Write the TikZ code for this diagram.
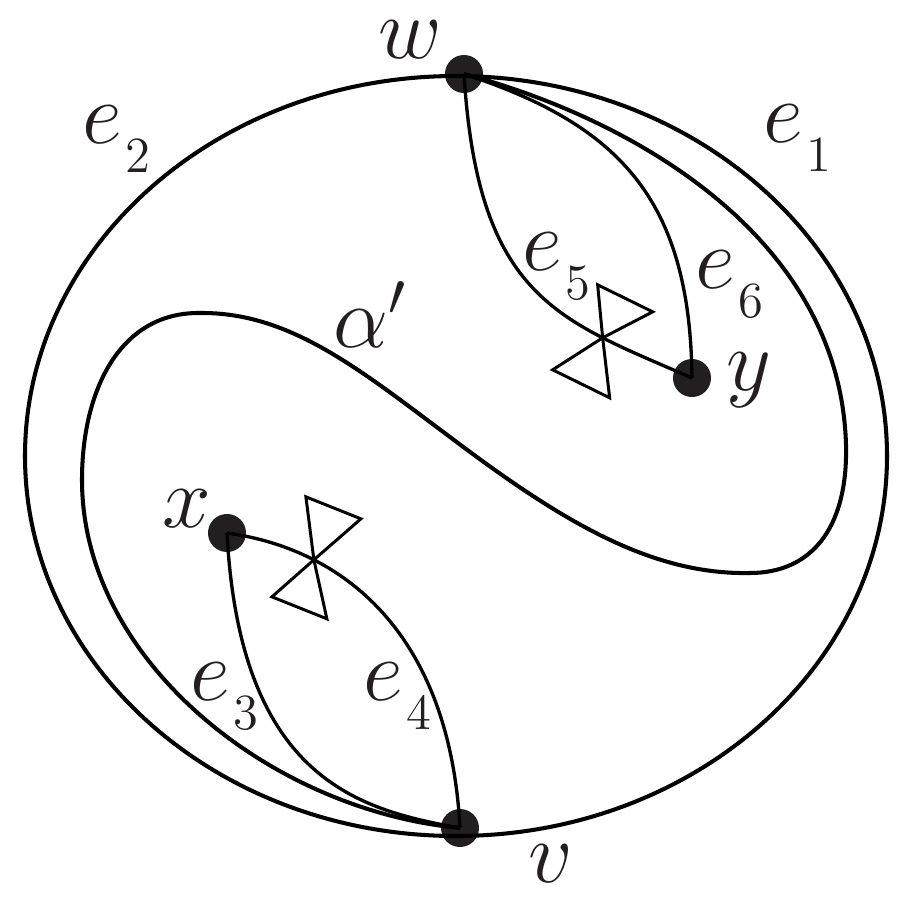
\documentclass[tikz,border=0pt]{standalone}
\definecolor{ink}{RGB}{35,31,32}
\newcommand{\elab}[1]{$e$\kern1pt\raisebox{-8.3pt}{\fontsize{15}{15}\selectfont$#1$}}
\tikzset{
 vtx/.style={circle, fill=ink, inner sep=0pt, minimum size=0.38cm},
 lab/.style={font=\fontsize{24}{24}\selectfont, text=ink, inner sep=0pt, anchor=base west},
 rim/.style={line width=1.15pt},
 wire/.style={line width=0.95pt},
 tie/.style={line width=0.85pt, line join=miter},
}

\begin{document}
\begin{tikzpicture}[x=0.01cm, y=-0.01cm]
\useasboundingbox (0,0) rectangle (900,900);
% vertices
\node[vtx] (w) at (464,74) {};
\node[vtx] (v) at (460,828) {};
\node[vtx] (x) at (227,533) {};
\node[vtx] (y) at (692,378) {};
% e1, e2
\draw[rim] (456,456) ellipse [x radius=431, y radius=380];
% alpha'
\draw[rim] (w.center) .. controls (620,115) and (840,230) .. (846,445)
  .. controls (848,530) and (810,573) .. (750,573)
  .. controls (650,575) and (560,520) .. (450,437)
  .. controls (360,370) and (290,312) .. (200,313)
  .. controls (120,312) and (82,390) .. (82,480)
  .. controls (82,660) and (270,810) .. (v.center);
% e3 .. e6
\draw[wire] (x.center) .. controls (240,780) and (360,810) .. (v.center);
\draw[wire] (x.center) .. controls (350,550) and (450,640) .. (v.center) coordinate[pos=0.25] (t2);
\draw[wire] (w.center) .. controls (478,300) and (560,320) .. (y.center) coordinate[pos=0.75] (t1);
\draw[wire] (w.center) .. controls (620,125) and (690,200) .. (y.center);
% bow ties
\foreach \t/\ax/\ay/\bx/\by/\cx/\cy/\dx/\dy in {t1/-5/-53/50/-26/-50/32/7/60, t2/-8/-63/47/-41/-42/37/13/59}{
 \draw[tie] (\t) -- +(\ax,\ay) -- +(\bx,\by) -- cycle;
 \draw[tie] (\t) -- +(\cx,\cy) -- +(\dx,\dy) -- cycle;
}
% labels
\node[lab] (l-w) at (378,58) {$w$};
\node[lab] (l-v) at (528,882) {$v$};
\node[lab] (l-x) at (162,527) {$x$};
\node[lab] (l-y) at (726,390) {$y$};
\node[lab] (l-e1) at (763,142) {\elab{1}};
\node[lab] (l-e2) at (82,143) {\elab{2}};
\node[lab] (l-e3) at (190,700) {\elab{3}};
\node[lab] (l-e4) at (363,700) {\elab{4}};
\node[lab] (l-e5) at (522,270) {\elab{5}};
\node[lab] (l-e6) at (695,288) {\elab{6}};
\node[lab] (l-al) at (333,347) {$\alpha'$};
\end{tikzpicture}
\end{document}
